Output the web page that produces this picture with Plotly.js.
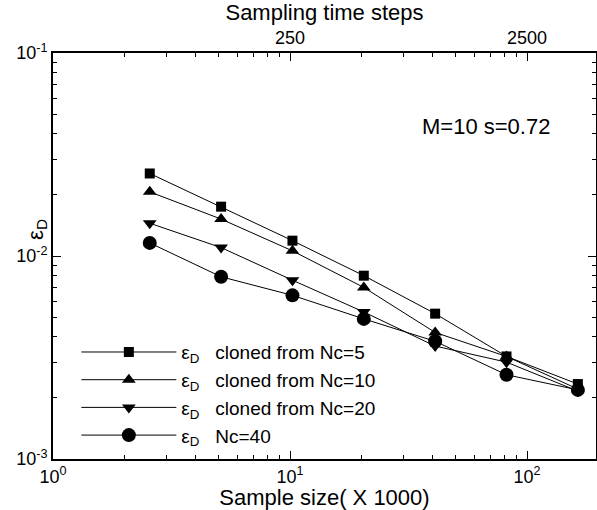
<!DOCTYPE html>
<html>
<head>
<meta charset="utf-8">
<script src="https://cdn.plot.ly/plotly-3.0.1.min.js"></script>
<style>html,body{margin:0;padding:0;background:#fff;}#chart{width:597px;height:510px;}</style>
</head>
<body>
<div id="chart"></div>
<script>
// Sample size (x 1000)
const sampleSize = [2.56, 5.12, 10.24, 20.48, 40.96, 81.92, 163.84];
// epsilon_D series
const clonedNc5  = [0.0255, 0.0175, 0.0119, 0.0080, 0.0052, 0.0032, 0.00234];
const clonedNc10 = [0.0207, 0.0152, 0.0106, 0.0070, 0.0042, 0.0032, 0.00221];
const clonedNc20 = [0.0145, 0.0110, 0.0076, 0.0053, 0.0036, 0.0030, 0.00216];
const nc40       = [0.0116, 0.0079, 0.0064, 0.0049, 0.0038, 0.0026, 0.00219];
const seriesNames = [
  'ε<sub>D</sub>   cloned from Nc=5',
  'ε<sub>D</sub>   cloned from Nc=10',
  'ε<sub>D</sub>   cloned from Nc=20',
  'ε<sub>D</sub>   Nc=40'
];
// Tick labels
const xTickVals = [1, 10, 100];
const xTickText = ['10<sup>0</sup>', '10<sup>1</sup>', '10<sup>2</sup>'];
const yTickVals = [0.001, 0.01, 0.1];
const yTickText = ['10<sup>-3</sup>', '10<sup>-2</sup>', '10<sup>-1</sup>'];
const topTickVals = [250, 2500];
const topTickText = ['250', '2500'];
const stepsPerSample = 25; // sampling time steps per sample-size unit

const FONT = 'Liberation Sans, Arial, Helvetica, sans-serif';

function decadeMinors(lo, hi) {
  const out = [];
  for (let d = lo; d <= hi; d++) for (let k = 2; k <= 9; k++) out.push(k * Math.pow(10, d));
  return out;
}
const topMinors = [];
for (let k = 2; k <= 9; k++) { topMinors.push(25 * k); topMinors.push(250 * k); }

const symbols = ['square', 'triangle-up', 'triangle-down', 'circle'];
const sizes = [10, 12, 12, 14];
const data = [clonedNc5, clonedNc10, clonedNc20, nc40].map((ys, i) => ({
  x: sampleSize, y: ys, type: 'scatter', mode: 'lines+markers',
  name: seriesNames[i], legendgroup: 'g' + i,
  line: {color: 'black', width: 1},
  marker: {symbol: symbols[i], size: sizes[i], color: 'black'},
  xaxis: 'x', yaxis: 'y'
}));
data.push({
  x: sampleSize.map(v => v * stepsPerSample), y: nc40, type: 'scatter', mode: 'none',
  showlegend: false, hoverinfo: 'skip', xaxis: 'x2', yaxis: 'y'
});

const axisCommon = {
  type: 'log', showline: true, linecolor: 'black', linewidth: 2, showgrid: false,
  zeroline: false, ticks: 'inside', ticklen: 8, tickwidth: 1, tickcolor: 'black',
  tickmode: 'array', tickfont: {family: FONT, size: 18, color: 'black'}
};

const layout = {
  width: 597, height: 510,
  margin: {l: 53, r: 1, t: 53, b: 51},
  paper_bgcolor: 'white', plot_bgcolor: 'white',
  showlegend: true,
  legend: {
    x: 0.043, y: 0.31, xanchor: 'left', yanchor: 'top',
    bgcolor: 'rgba(0,0,0,0)', borderwidth: 0,
    font: {family: FONT, size: 19, color: 'black'},
    itemwidth: 95, tracegroupgap: 0
  },
  xaxis: Object.assign({}, axisCommon, {
    range: [0, 2.291], tickvals: xTickVals, ticktext: xTickText,
    minor: {ticks: 'inside', ticklen: 4, tickcolor: 'black', tickmode: 'array', tickvals: decadeMinors(0, 2)},
    title: {text: 'Sample size( X 1000)', font: {family: FONT, size: 22, color: 'black'}, standoff: 2}
  }),
  xaxis2: Object.assign({}, axisCommon, {
    overlaying: 'x', side: 'top', anchor: 'y',
    range: [Math.log10(25), Math.log10(25) + 2.291], tickvals: topTickVals, ticktext: topTickText,
    minor: {ticks: 'inside', ticklen: 4, tickcolor: 'black', tickmode: 'array', tickvals: topMinors},
    title: {text: 'Sampling time steps', font: {family: FONT, size: 22, color: 'black'}, standoff: 2}
  }),
  yaxis: Object.assign({}, axisCommon, {
    range: [-3, -1], tickvals: yTickVals, ticktext: yTickText, mirror: 'ticks',
    minor: {ticks: 'inside', ticklen: 4, tickcolor: 'black', tickmode: 'array', tickvals: decadeMinors(-3, -2)}
  }),
  annotations: [
    {xref: 'paper', yref: 'paper', x: 0.797, y: 0.82, xanchor: 'center', yanchor: 'middle',
     text: 'M=10 s=0.72', showarrow: false, font: {family: FONT, size: 22, color: 'black'}},
    {xref: 'paper', yref: 'paper', x: -0.03, y: 0.566, xanchor: 'center', yanchor: 'middle',
     text: 'ε<sub>D</sub>', textangle: -90, showarrow: false, font: {family: FONT, size: 22, color: 'black'}}
  ]
};

Plotly.newPlot('chart', data, layout, {displayModeBar: false, staticPlot: true});
</script>
</body>
</html>
